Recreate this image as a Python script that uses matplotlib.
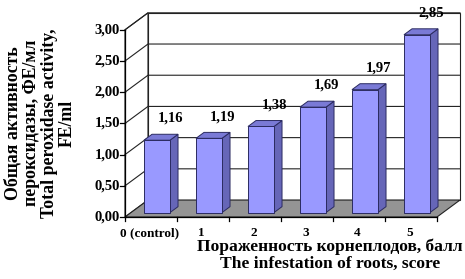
import matplotlib
matplotlib.use("Agg")
from matplotlib import pyplot as plt
from matplotlib.patches import Polygon

categories = ["0 (control)", "1", "2", "3", "4", "5"]
values = [1.16, 1.19, 1.38, 1.69, 1.97, 2.85]
value_labels = ["1,16", "1,19", "1,38", "1,69", "1,97", "2,85"]
yticks = [0.0, 0.5, 1.0, 1.5, 2.0, 2.5, 3.0]
ytick_labels = ["0,00", "0,50", "1,00", "1,50", "2,00", "2,50", "3,00"]

ylabel = "Общая активность\nпероксидазы, ФЕ/мл\nTotal peroxidase activity,\nFE/ml"
xlabel_ru = "Пораженность корнеплодов, балл"
xlabel_en = "The infestation of roots, score"

plt.rcParams['font.family'] = ['Liberation Serif', 'DejaVu Serif']
plt.rcParams['font.weight'] = 'bold'

#--3D look: depth offset of the back wall in data units--#
DX = 0.442
DY = 0.272
bar_w = 0.5
d0, d1 = 0.26, 0.61   # bar depth (fraction of wall depth)
ymax = yticks[-1]
n = len(categories)

fig = plt.figure(figsize=(4.65, 2.79), dpi=100)
ax = fig.add_axes([0, 0, 1, 1])
ax.set_xlim(-125 / 52, (465 - 125) / 52)
ax.set_ylim((217 - 279) / 62.4, 217 / 62.4)
ax.axis("off")

line_c = "#222222"

# walls
ax.add_patch(Polygon([(DX, DY), (n + DX, DY), (n + DX, ymax + DY), (DX, ymax + DY)],
                     closed=True, facecolor="white", edgecolor=line_c, lw=0.8, zorder=1))
ax.add_patch(Polygon([(0, 0), (DX, DY), (DX, ymax + DY), (0, ymax)],
                     closed=True, facecolor="white", edgecolor=line_c, lw=0.8, zorder=1))
# floor
ax.add_patch(Polygon([(0, 0), (n, 0), (n + DX, DY), (DX, DY)],
                     closed=True, facecolor="#949494", edgecolor=line_c, lw=0.8, zorder=2))

# gridlines
for t in yticks[1:]:
    ax.plot([0, DX, n + DX], [t, t + DY, t + DY], color=line_c, lw=0.8, zorder=1.5)

# bars
front_c, side_c, top_c, edge_c = "#9999ff", "#6666b8", "#7a7ad6", "#2a2a60"
for i, v in enumerate(values):
    x0 = i + 0.5 - bar_w / 2 + d0 * DX
    x1 = x0 + bar_w
    y0 = d0 * DY
    ex = (d1 - d0) * DX
    ey = (d1 - d0) * DY
    top = v + y0
    ax.add_patch(Polygon([(x1, y0), (x1 + ex, y0 + ey), (x1 + ex, top + ey), (x1, top)],
                         closed=True, facecolor=side_c, edgecolor=edge_c, lw=0.7, zorder=3))
    ax.add_patch(Polygon([(x0, top), (x1, top), (x1 + ex, top + ey), (x0 + ex, top + ey)],
                         closed=True, facecolor=top_c, edgecolor=edge_c, lw=0.7, zorder=3))
    ax.add_patch(Polygon([(x0, y0), (x1, y0), (x1, top), (x0, top)],
                         closed=True, facecolor=front_c, edgecolor=edge_c, lw=0.7, zorder=4))
    ax.text(i + 0.88, v + 0.42, value_labels[i], ha="center", va="center",
            fontsize=10.5, fontweight="bold", zorder=5)

# front axes with ticks
ax.plot([0, 0], [0, ymax], color="black", lw=0.9, zorder=5)
ax.plot([0, n], [0, 0], color="black", lw=0.9, zorder=5)
for t, lab in zip(yticks, ytick_labels):
    ax.plot([-0.09, 0], [t, t], color="black", lw=0.9, zorder=5)
    ax.text(-0.1, t, lab, ha="right", va="center", fontsize=10.5, fontweight="bold")
for k in range(n + 1):
    ax.plot([k, k], [0, -0.07], color="black", lw=0.9, zorder=5)
for i, c in enumerate(categories):
    ax.text(i + 0.47, -0.26, c, ha="center", va="center", fontsize=9.5, fontweight="bold")

fig.text(40 / 465, 1 - 123 / 279, ylabel, rotation=90, ha="center", va="center",
         fontsize=12.8, fontweight="bold", linespacing=1.1)
fig.text(330 / 465, 1 - 247 / 279, xlabel_ru, ha="center", va="center",
         fontsize=12.6, fontweight="bold")
fig.text(330 / 465, 1 - 264 / 279, xlabel_en, ha="center", va="center",
         fontsize=12.6, fontweight="bold")

fig.savefig("out.png", dpi=100)
